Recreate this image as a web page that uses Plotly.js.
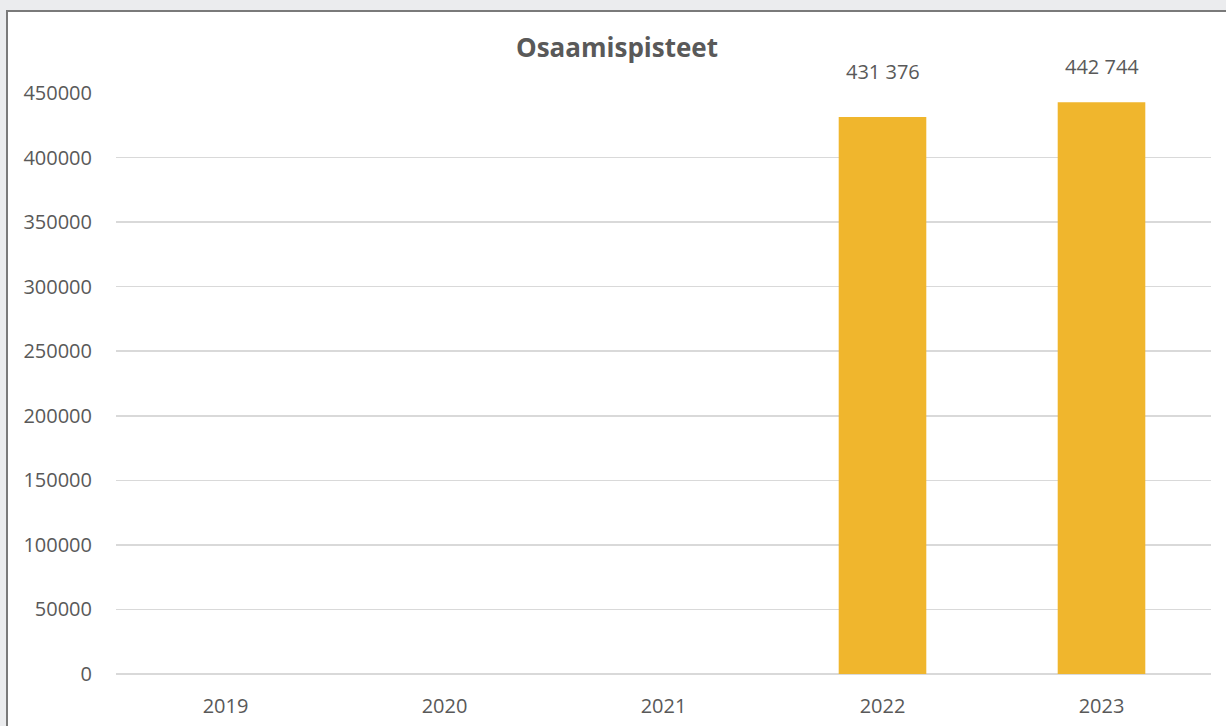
<!DOCTYPE html>
<html>
<head>
<meta charset="utf-8">
<script src="https://cdn.plot.ly/plotly-3.0.1.min.js"></script>
<style>
  html, body { margin: 0; padding: 0; background: #ebecee; width: 1226px; height: 726px; overflow: hidden; }
  #frame { position: absolute; left: 6px; top: 10px; width: 1240px; height: 740px; background: #ffffff;
           border-left: 2px solid #7a7a7a; border-top: 2px solid #7a7a7a; }
  #chart { position: absolute; left: 0; top: 0; width: 1218px; height: 714px; }
</style>
</head>
<body>
<div id="frame"><div id="chart"></div></div>
<script>
const years = ['2019', '2020', '2021', '2022', '2023'];
const points = [null, null, null, 431376, 442744];
const yTicks = [0, 50000, 100000, 150000, 200000, 250000, 300000, 350000, 400000, 450000];

const labelShift = [0, 0, 0, 46, 36];
const textColor = '#595959';
const font = 'Open Sans, Noto Sans, sans-serif';

function fmt(v) {
  return String(v).replace(/\B(?=(\d{3})+(?!\d))/g, ' ');
}

const annotations = [];
years.forEach((y, i) => {
  if (points[i] !== null) {
    annotations.push({
      x: i, y: points[i], xref: 'x', yref: 'y',
      text: fmt(points[i]), showarrow: false,
      xanchor: 'center', yanchor: 'middle', yshift: labelShift[i],
      font: { family: font, size: 20, color: textColor }
    });
  }
});

const trace = {
  type: 'bar',
  x: years,
  y: points,
  marker: { color: '#f0b62d' },
  hoverinfo: 'x+y'
};

const layout = {
  width: 1218, height: 714,
  margin: { l: 108, r: 15, t: 81, b: 52 },
  paper_bgcolor: '#ffffff',
  plot_bgcolor: '#ffffff',
  showlegend: false,
  bargap: 0.6,
  title: {
    text: '<b>Osaamispisteet</b>',
    x: 0.5, xref: 'container', xanchor: 'center',
    y: 0.9496, yref: 'container', yanchor: 'middle',
    font: { family: font, size: 26, color: textColor }
  },
  xaxis: {
    type: 'category',
    categoryorder: 'array', categoryarray: years,
    range: [-0.5, years.length - 0.5],
    autorange: false,
    showgrid: false, zeroline: false,
    showline: false,
    ticks: 'outside', ticklen: 14, tickcolor: 'rgba(0,0,0,0)',
    tickfont: { family: font, size: 20, color: textColor },
    fixedrange: true
  },
  yaxis: {
    range: [0, 450000],
    autorange: false,
    tickvals: yTicks,
    ticktext: yTicks.map(String),
    showgrid: true, gridcolor: '#d9d9d9', gridwidth: 1.5,
    zeroline: true, zerolinecolor: '#d9d9d9', zerolinewidth: 1.5,
    showline: false,
    ticks: 'outside', ticklen: 19, tickcolor: 'rgba(0,0,0,0)',
    tickfont: { family: font, size: 20, color: textColor },
    fixedrange: true
  },
  annotations: annotations
};

Plotly.newPlot('chart', [trace], layout, { displayModeBar: false, staticPlot: true });
</script>
</body>
</html>
